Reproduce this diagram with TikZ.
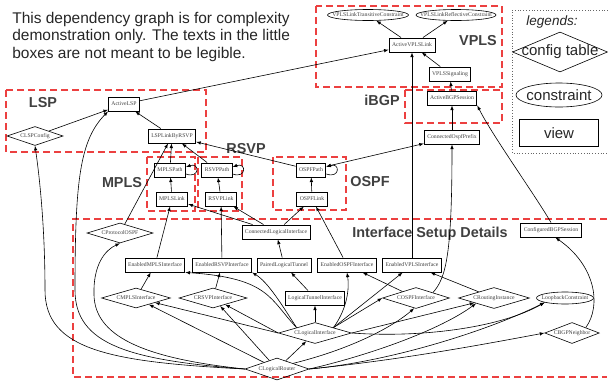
\documentclass[tikz,border=0pt]{standalone}
\usepackage{fontspec}
\setmainfont{Liberation Serif}
\setsansfont{Liberation Sans}
\usepackage{tikz}
\usetikzlibrary{shapes.geometric,arrows,positioning}
\definecolor{grpred}{RGB}{236,64,64}
\newcommand{\zw}[1]{\makebox[0pt]{#1}}
\tikzstyle{arrow}=[draw, -latex]
\tikzstyle{viewbox}=[rectangle, draw, line width=0.9pt, minimum height=14pt, inner xsep=3pt, inner ysep=0pt]
\tikzstyle{cfgbox}=[diamond, draw, line width=0.6pt, aspect=3.5, inner sep=0pt, minimum height=20pt]
\tikzstyle{constrbox}=[ellipse, draw, line width=0.6pt, inner sep=0pt, minimum height=11pt]
\tikzstyle{groupbox}=[draw=grpred, dash pattern=on 7pt off 4pt, line width=1.1pt]
\tikzstyle{grouplabel}=[inner sep=0pt, font=\fontsize{14.4}{16}\sffamily\bfseries]

\begin{document}
\begin{tikzpicture}[
                x=1pt, y=-1pt,
                every node/.style={font=\fontsize{5.7}{6}\selectfont, text=black!75},
                every path/.style={line width=0.6pt}
            ]
    \useasboundingbox (0,0) rectangle (608,381);

    % Note and legend
    \node[anchor=north west, align=left, inner sep=0pt, text=black!85, font=\fontsize{15.5}{17.5}\sffamily] (note) at (12,11.5)
        {This dependency graph is for complexity\\demonstration only. The texts in the little\\boxes are not meant to be legible.};
    \draw[black!60, dash pattern=on 0.8pt off 2pt] (608,10) -| (512,153) -- (608,153);
    \node[text=black!85, font=\fontsize{13.5}{16}\sffamily\itshape] (leg_title) at (552,22) {legends:};
    \node[cfgbox, minimum width=95pt, minimum height=40pt, text=black!85, font=\fontsize{15}{18}\sffamily] (leg_cfg) at (560,52) {\zw{config table}};
    \node[constrbox, minimum width=86pt, minimum height=24pt, text=black!85, font=\fontsize{15}{18}\sffamily] (leg_constr) at (559,95) {\zw{constraint}};
    \node[viewbox, minimum width=79pt, minimum height=27pt, text=black!85, font=\fontsize{15}{18}\sffamily] (leg_view) at (559,133) {view};

    % Groups
    \draw[groupbox] (316,6) rectangle (502,87);
    \draw[groupbox] (405,90) rectangle (502,123);
    \draw[groupbox] (6,90) rectangle (206,152);
    \draw[groupbox] (147,157) rectangle (195,211);
    \draw[groupbox] (198,157) rectangle (242,211);
    \draw[groupbox] (273,157) rectangle (346,210);
    \draw[groupbox] (607,219) -| (73,377) -- (607,377);
    \node[grouplabel] (lbl_vpls) at (478,41) {VPLS};
    \node[grouplabel] (lbl_ibgp) at (382,100) {iBGP};
    \node[grouplabel] (lbl_lsp) at (43,103) {LSP};
    \node[grouplabel] (lbl_mpls) at (122,183) {MPLS};
    \node[grouplabel] (lbl_rsvp) at (246,149) {RSVP};
    \node[grouplabel] (lbl_ospf) at (370,182) {OSPF};
    \node[grouplabel] (lbl_iface) at (430,234) {Interface Setup Details};

    % VPLS and iBGP
    \node[constrbox, minimum width=81pt] (vpls_trans) at (368,15) {\zw{VPLSLinkTransitiveConstraint}};
    \node[constrbox, minimum width=80pt] (vpls_refl) at (456,15) {\zw{VPLSLinkReflectiveConstraint}};
    \node[viewbox] (active_vpls) at (412,45) {ActiveVPLSLink};
    \node[viewbox] (vpls_sig) at (450,74) {VPLSSignaling};
    \node[viewbox] (active_bgp) at (452,98) {ActiveBGPSession};
    \node[viewbox] (conn_ospf_prefix) at (452,137) {ConnectedOspfPrefix};

    % LSP, MPLS, RSVP, OSPF
    \node[viewbox] (active_lsp) at (124,104) {ActiveLSP};
    \node[cfgbox, minimum width=56pt, minimum height=19pt] (clsp_config) at (35,136) {CLSPConfig};
    \node[viewbox] (lsp_link) at (172,136) {LSPLinkByRSVP};
    \node[viewbox] (mpls_path) at (170,170) {MPLSPath};
    \node[viewbox] (rsvp_path) at (217,170) {RSVPPath};
    \node[viewbox] (ospf_path) at (311,170) {OSPFPath};
    \node[viewbox] (mpls_link) at (172,199) {MPLSLink};
    \node[viewbox] (rsvp_link) at (221,199) {RSVPLink};
    \node[viewbox] (ospf_link) at (312,199) {OSPFLink};

    % Interface setup
    \node[cfgbox, minimum width=66pt] (cprotocol_ospf) at (120,233) {CProtocolOSPF};
    \node[viewbox] (conn_log_if) at (276,232) {ConnectedLogicalInterface};
    \node[viewbox] (conf_bgp) at (551,230) {ConfiguredBGPSession};
    \node[viewbox] (en_mpls) at (155,265) {EnabledMPLSInterface};
    \node[viewbox] (en_rsvp) at (222,265) {EnabledRSVPInterface};
    \node[viewbox] (paired_tunnel) at (284,265) {PairedLogicalTunnel};
    \node[viewbox] (en_ospf) at (347,265) {EnabledOSPFInterface};
    \node[viewbox] (en_vpls) at (412,265) {EnabledVPLSInterface};
    \node[cfgbox, minimum width=69pt] (cmpls_if) at (136,298) {CMPLSInterface};
    \node[cfgbox, minimum width=68pt] (crsvp_if) at (213,298) {CRSVPInterface};
    \node[viewbox] (log_tunnel_if) at (315,298) {LogicalTunnelInterface};
    \node[cfgbox, minimum width=67pt, minimum height=21pt] (cospf_if) at (416,298) {COSPFInterface};
    \node[cfgbox, minimum width=71pt, minimum height=21pt] (crouting) at (494,298) {CRoutingInstance};
    \node[constrbox, minimum width=57pt, minimum height=12pt] (loopback) at (565,298) {\zw{LoopbackConstraint}};
    \node[cfgbox, minimum width=73pt, minimum height=21pt] (clog_if) at (315,333) {CLogicalInterface};
    \node[cfgbox, minimum width=52pt, minimum height=21pt] (cbgp) at (572,333) {CBGPNeighbor};
    \node[cfgbox, minimum width=64pt, minimum height=22pt] (clog_router) at (277,369) {CLogicalRouter};

    % VPLS edges
    \draw[arrow] (active_vpls) -- (vpls_trans);
    \draw[arrow] (active_vpls) -- (vpls_refl);
    \draw[arrow] (vpls_sig) -- (active_vpls);
    \draw[arrow] (active_bgp) -- (vpls_sig);
    \draw[arrow] (active_lsp) -- (active_vpls);
    \draw[arrow] (en_vpls) -- (active_vpls);
    \draw[arrow] (conn_ospf_prefix) -- (active_bgp);
    \draw[arrow] (conf_bgp.north) .. controls (535,195) and (492,135) .. (active_bgp.south east);
    \draw[arrow] (cospf_if.north east) .. controls (446,278) and (452,255) .. (conn_ospf_prefix.south);
    \draw[arrow, latex-latex] (ospf_path) -- (conn_ospf_prefix);

    % self loops
    \draw[arrow] ([yshift=-4pt]mpls_path.east) .. controls +(14pt,-5pt) and +(14pt,5pt) .. ([yshift=3pt]mpls_path.east);
    \draw[arrow] ([yshift=-4pt]rsvp_path.east) .. controls +(14pt,-5pt) and +(14pt,5pt) .. ([yshift=3pt]rsvp_path.east);
    \draw[arrow] ([yshift=-4pt]ospf_path.east) .. controls +(14pt,-5pt) and +(14pt,5pt) .. ([yshift=3pt]ospf_path.east);

    % OSPF, RSVP, MPLS, LSP edges
    \draw[arrow] (ospf_link) -- (ospf_path);
    \draw[arrow] (en_ospf) -- (ospf_link);
    \draw[arrow] (conn_log_if) -- (ospf_link);
    \draw[arrow] (ospf_path) -- (lsp_link);
    \draw[arrow] (rsvp_link) -- (rsvp_path);
    \draw[arrow] (rsvp_path) -- (lsp_link);
    \draw[arrow] (conn_log_if) -- (rsvp_link);
    \draw[arrow] (conn_log_if) -- (mpls_link);
    \draw[arrow] (en_rsvp) -- (rsvp_link);
    \draw[arrow] (mpls_link) -- (mpls_path);
    \draw[arrow] (mpls_path) -- (lsp_link);
    \draw[arrow] (en_mpls) -- (mpls_link);
    \draw[arrow] (cprotocol_ospf) -- (lsp_link);
    \draw[arrow] (lsp_link) -- (active_lsp);
    \draw[arrow] (clsp_config) -- (active_lsp);

    % from CLogicalRouter round the left
    \draw[arrow] (clog_router.west) .. controls (110,362) and (45,350) .. (45,290) .. controls (45,230) and (40,180) .. (clsp_config.south);
    \draw[arrow] (clog_router.west) .. controls (130,360) and (75,345) .. (75,290) .. controls (75,180) and (80,140) .. (active_lsp.south west);
    \draw[arrow] (clog_router.west) .. controls (140,358) and (95,335) .. (94,295) .. controls (93,265) and (105,250) .. (cprotocol_ospf.south);

    % interface edges
    \draw[arrow] (clog_router) -- (cmpls_if);
    \draw[arrow] (clog_router) -- (crsvp_if);
    \draw[arrow] (clog_router) -- (clog_if);
    \draw[arrow] (clog_router.north east) .. controls (355,348) and (395,325) .. (cospf_if.-100);
    \draw[arrow] (clog_router.east) .. controls (370,355) and (440,330) .. (crouting.south west);
    \draw[arrow] (clog_router.east) .. controls (390,362) and (490,330) .. (loopback.south west);
    \draw[arrow] (clog_router.east) .. controls (400,360) and (480,345) .. (cbgp.west);
    \draw[arrow] (clog_if.west) -- (cmpls_if);
    \draw[arrow] (clog_if.west) -- (crsvp_if);
    \draw[arrow] (clog_if) -- (log_tunnel_if);
    \draw[arrow] (clog_if.north west) .. controls (270,300) and (270,278) .. (en_mpls.south east);
    \draw[arrow] (clog_if.north west) .. controls (282,305) and (268,282) .. (en_rsvp.south east);
    \draw[arrow] (clog_if.north east) .. controls (345,312) and (350,292) .. (en_ospf.south);
    \draw[arrow] (clog_if.north east) -- (en_vpls);
    \draw[arrow] (clog_if.north east) -- (cospf_if.west);
    \draw[arrow] (clog_if.east) -- (crouting);
    \draw[arrow] (clog_if.east) .. controls (420,338) and (500,328) .. (loopback.south west);
    \draw[arrow] (cmpls_if) -- (en_mpls);
    \draw[arrow] (crsvp_if) -- (en_rsvp);
    \draw[arrow] (cospf_if) -- (en_ospf);
    \draw[arrow] (crouting) -- (en_vpls);
    \draw[arrow] (log_tunnel_if) -- (paired_tunnel);
    \draw[arrow] (paired_tunnel) -- (conn_log_if);
    \draw[arrow] (cbgp.north east) .. controls (602,305) and (595,265) .. (conf_bgp.-60);
\end{tikzpicture}
\end{document}
